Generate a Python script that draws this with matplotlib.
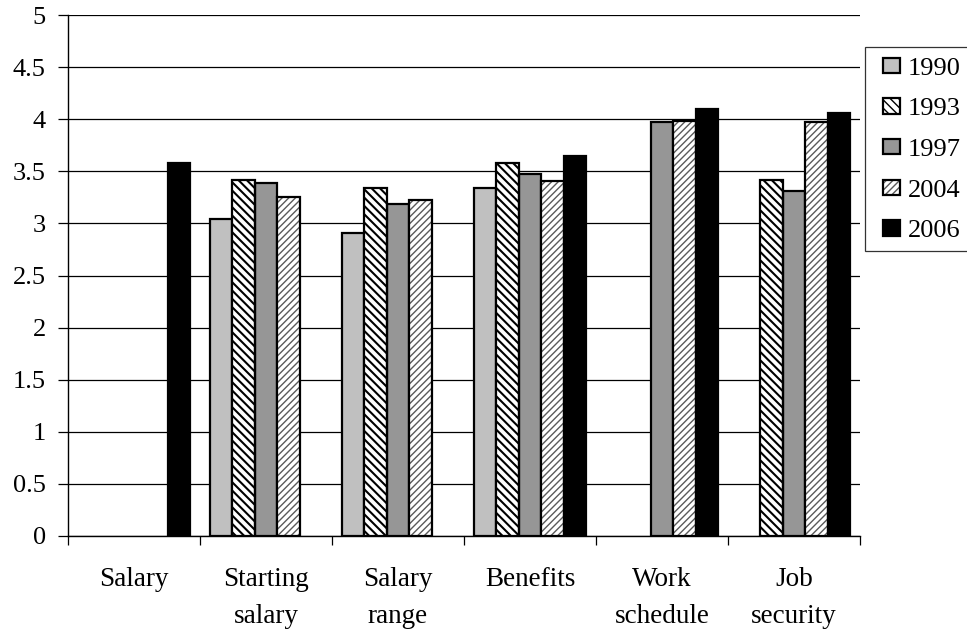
import numpy as np
import matplotlib
matplotlib.use("Agg")
from matplotlib import pyplot as plt
from matplotlib.patches import Patch, Rectangle
from matplotlib.legend_handler import HandlerPatch

# Data
categories = ["Salary", "Starting\nsalary", "Salary\nrange", "Benefits", "Work\nschedule", "Job\nsecurity"]
years = ["1990", "1993", "1997", "2004", "2006"]
v1990 = [np.nan, 3.04, 2.91, 3.34, np.nan, np.nan]
v1993 = [np.nan, 3.42, 3.34, 3.58, np.nan, 3.42]
v1997 = [np.nan, 3.39, 3.19, 3.47, 3.97, 3.31]
v2004 = [np.nan, 3.25, 3.22, 3.41, 3.98, 3.97]
v2006 = [3.58, np.nan, np.nan, 3.65, 4.10, 4.06]
series = [v1990, v1993, v1997, v2004, v2006]

# style per year: face colour, hatch, hatch colour, hatch linewidth
styles = [
    ("#c0c0c0", None, "black", 1.0),
    ("white", "\\\\\\\\", "black", 1.5),
    ("#969696", None, "black", 1.0),
    ("white", "/////", "#5a5a5a", 1.0),
    ("black", None, "black", 1.0),
]

plt.rcParams["font.family"] = ["Liberation Serif", "DejaVu Serif"]

fig = plt.figure(figsize=(9.67, 6.31), dpi=100)
ax = fig.add_axes([68 / 967, 1 - 536 / 631, (860 - 68) / 967, (536 - 15) / 631])

x = np.arange(len(categories))
width = 0.171
handles = []
for i, (vals, (fc, hatch, hc, hlw)) in enumerate(zip(series, styles)):
    pos = x + (i - 2) * width
    if hatch:
        with plt.rc_context({"hatch.linewidth": hlw}):
            ax.bar(pos, vals, width, color=fc, edgecolor=hc, hatch=hatch, linewidth=0, zorder=3)
            hp = Patch(facecolor=fc, edgecolor=hc, hatch=hatch, linewidth=0)
        ax.bar(pos, vals, width, fill=False, edgecolor="black", linewidth=1.6, zorder=4)
        h = (hp, Patch(fill=False, edgecolor="black", linewidth=1.6))
    else:
        ax.bar(pos, vals, width, color=fc, edgecolor="black", linewidth=1.6, zorder=3)
        h = Patch(facecolor=fc, edgecolor="black", linewidth=1.6)
    handles.append(h)

ax.set_xlim(-0.5, len(categories) - 0.5)
ax.set_ylim(0, 5)
ax.set_yticks(np.arange(0, 5.01, 0.5))
ax.set_yticklabels(["0", "0.5", "1", "1.5", "2", "2.5", "3", "3.5", "4", "4.5", "5"])
ax.yaxis.grid(True, color="black", linewidth=0.9, zorder=0)
ax.tick_params(axis="y", length=7, width=0.9, labelsize=19, pad=9)

ax.set_xticks(np.arange(-0.5, len(categories), 1.0))
ax.set_xticklabels([])
ax.tick_params(axis="x", which="major", length=6.5, width=0.9)
ax.set_xticks(x, minor=True)
ax.set_xticklabels(categories, minor=True, fontsize=19.5, linespacing=1.6)
ax.tick_params(axis="x", which="minor", length=0, pad=22.5)

for s in ["top", "right"]:
    ax.spines[s].set_visible(False)
ax.spines["left"].set_linewidth(1.0)
ax.spines["bottom"].set_linewidth(1.0)


# legend squares sit at the right of a wider handle box
def square(legend, orig_handle, xdescent, ydescent, width, height, fontsize):
    w = 0.65 * fontsize
    hgt = 0.58 * fontsize
    return Rectangle((-xdescent + width - w, -ydescent + (height - hgt) / 2), w, hgt)


leg = fig.legend(handles, years, loc="upper left", bbox_to_anchor=(865 / 967, 1 - 47 / 631),
                 fontsize=19, frameon=True, fancybox=False, edgecolor="black",
                 handlelength=0.98, handleheight=0.7, handletextpad=0.3,
                 labelspacing=0.65, borderpad=0.35, borderaxespad=0,
                 handler_map={Patch: HandlerPatch(patch_func=square)})
leg.get_frame().set_linewidth(0.9)

fig.savefig("out.png", dpi=100)
